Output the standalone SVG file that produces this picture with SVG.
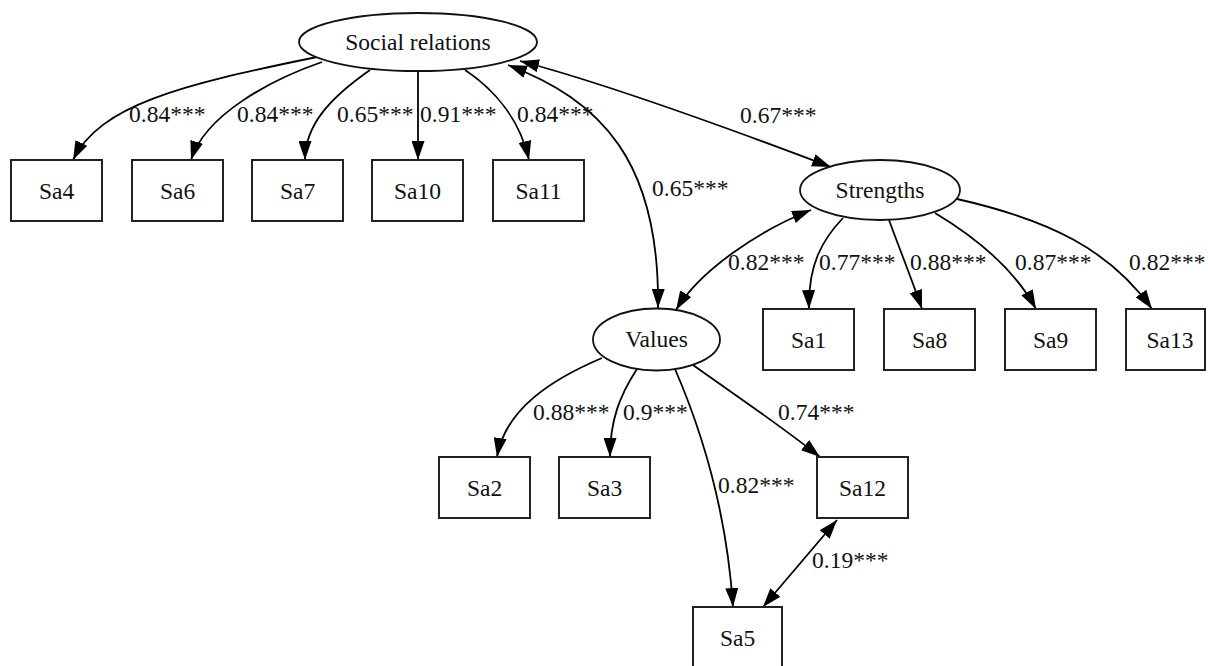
<svg xmlns="http://www.w3.org/2000/svg" width="1208" height="666" viewBox="0 0 1208 666">
<style>
text{font-family:"Liberation Serif","Times New Roman",serif;font-size:23.5px;fill:#111}
.n text{text-anchor:middle}
.box{fill:#fff;stroke:#222;stroke-width:2}
.ell{fill:#fff;stroke:#111;stroke-width:1.8}
.e path{fill:none;stroke:#000;stroke-width:1.8;marker-end:url(#ah)}
.e path.bi{marker-start:url(#ah)}
</style>
<defs>
<marker id="ah" viewBox="0 0 19 13" refX="19" refY="6.5" markerWidth="19" markerHeight="13" markerUnits="userSpaceOnUse" orient="auto-start-reverse">
<path d="M0,0 L19,6.5 L0,13 z" fill="#000"/>
</marker>
</defs>
<rect width="1208" height="666" fill="#fff"/>
<g id="connectors" class="e">
<path d="M317,57 C180,85 100,105 73,160"/>
<path d="M322,62 C270,80 205,115 191,160"/>
<path d="M370,70 C330,98 305,125 305,160"/>
<path d="M418,71 L418,160"/>
<path d="M465,70 C495,90 520,120 529,160"/>
<path class="bi" d="M520,61 C600,82 720,125 831,167"/>
<path class="bi" d="M508,65 C600,100 660,160 658,308"/>
<path class="bi" d="M811,210 C760,230 700,270 676,310"/>
<path d="M843,218 C822,240 808,265 809,309"/>
<path d="M889,220 C900,250 912,280 922,309"/>
<path d="M935,213 C980,240 1015,270 1036,309"/>
<path d="M957,199 C1050,220 1110,250 1152,309"/>
<path d="M602,358 C550,380 505,410 497,457"/>
<path d="M637,369 C620,395 610,420 610,457"/>
<path d="M675,369 C710,450 728,530 733,607"/>
<path d="M693,365 C735,395 780,425 820,457"/>
<path class="bi" d="M837,520 L763,607"/>
</g>
<g id="labels">
<text x="129" y="122">0.84***</text>
<text x="237" y="122">0.84***</text>
<text x="337" y="122">0.65***</text>
<text x="420" y="122">0.91***</text>
<text x="517" y="122">0.84***</text>
<text x="740" y="123">0.67***</text>
<text x="652" y="196">0.65***</text>
<text x="728" y="270">0.82***</text>
<text x="819" y="270">0.77***</text>
<text x="910" y="270">0.88***</text>
<text x="1015" y="270">0.87***</text>
<text x="1129" y="270">0.82***</text>
<text x="533" y="420">0.88***</text>
<text x="623" y="420">0.9***</text>
<text x="778" y="420">0.74***</text>
<text x="718" y="493">0.82***</text>
<text x="812" y="568">0.19***</text>
</g>
<g id="social_relations" class="n"><ellipse class="ell" cx="418" cy="42" rx="119" ry="29"/><text x="418" y="50">Social relations</text></g>
<g id="strengths" class="n"><ellipse class="ell" cx="880" cy="190" rx="80" ry="30"/><text x="880" y="198">Strengths</text></g>
<g id="values" class="n"><ellipse class="ell" cx="656.5" cy="339.5" rx="63.5" ry="31"/><text x="656.5" y="347">Values</text></g>
<g id="Sa4" class="n"><rect class="box" x="11" y="160" width="91" height="61"/><text x="56.5" y="199">Sa4</text></g>
<g id="Sa6" class="n"><rect class="box" x="132" y="160" width="91" height="61"/><text x="177.5" y="199">Sa6</text></g>
<g id="Sa7" class="n"><rect class="box" x="252" y="160" width="91" height="61"/><text x="297.5" y="199">Sa7</text></g>
<g id="Sa10" class="n"><rect class="box" x="372" y="160" width="91" height="61"/><text x="417.5" y="199">Sa10</text></g>
<g id="Sa11" class="n"><rect class="box" x="493" y="160" width="91" height="61"/><text x="538.5" y="199">Sa11</text></g>
<g id="Sa1" class="n"><rect class="box" x="763" y="309" width="91" height="61"/><text x="808.5" y="348">Sa1</text></g>
<g id="Sa8" class="n"><rect class="box" x="884" y="309" width="91" height="61"/><text x="929.5" y="348">Sa8</text></g>
<g id="Sa9" class="n"><rect class="box" x="1005" y="309" width="91" height="61"/><text x="1050.5" y="348">Sa9</text></g>
<g id="Sa13" class="n"><rect class="box" x="1126" y="309" width="79" height="61"/><text x="1170" y="348">Sa13</text></g>
<g id="Sa2" class="n"><rect class="box" x="439" y="457" width="91" height="61"/><text x="484.5" y="496">Sa2</text></g>
<g id="Sa3" class="n"><rect class="box" x="559" y="457" width="91" height="61"/><text x="604.5" y="496">Sa3</text></g>
<g id="Sa12" class="n"><rect class="box" x="817" y="457" width="91" height="61"/><text x="862.5" y="496">Sa12</text></g>
<g id="Sa5" class="n"><rect class="box" x="693" y="607" width="89" height="61"/><text x="737.5" y="646">Sa5</text></g>
</svg>
